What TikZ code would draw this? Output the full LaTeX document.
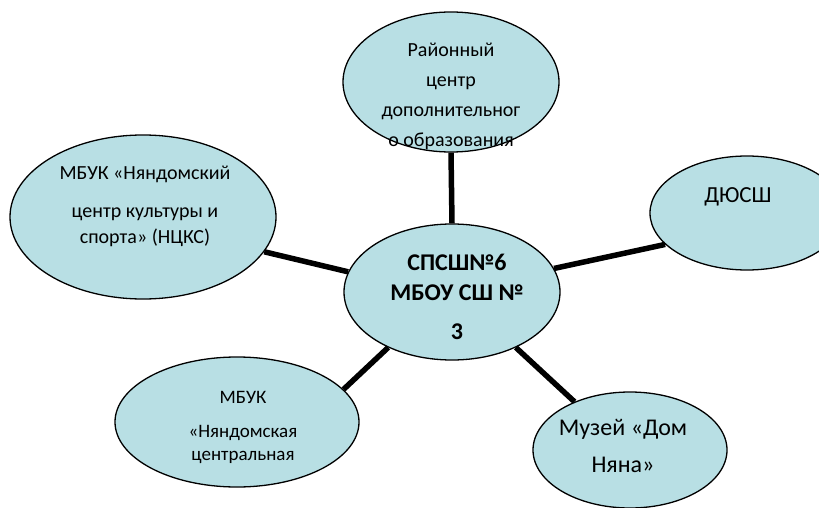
\documentclass[tikz,border=0pt]{standalone}
\usepackage{fontspec}
\setmainfont{Carlito}
\usetikzlibrary{shapes.geometric}
\definecolor{bubble}{RGB}{184,223,228}
\tikzset{
  bub/.style={ellipse, draw=black, line width=1.3pt, fill=bubble, inner sep=0pt},
  txt/.style={align=center, inner sep=0pt, text=black},
  conn/.style={draw=black, line width=5.5pt}
}
\newcommand{\fs}[2]{\fontsize{#1}{#2}\selectfont}
\begin{document}
\begin{tikzpicture}[x=1pt,y=-1pt]
\useasboundingbox (0,0) rectangle (819,508);
\clip (0,0) rectangle (819,508);
\node[bub, minimum width=216pt, minimum height=140pt] (top) at (451,82) {};
\node[bub, minimum width=266pt, minimum height=164pt] (left) at (143,217) {};
\node[bub, minimum width=194pt, minimum height=114pt] (right) at (747,213) {};
\node[bub, minimum width=244pt, minimum height=130pt] (bl) at (237,422) {};
\node[bub, minimum width=194pt, minimum height=116pt] (br) at (630,450) {};
\node[bub, minimum width=216pt, minimum height=136pt] (c) at (452,292) {};

\draw[conn] (top.south) -- (c.north);
\draw[conn] (left.-16) -- (c.169);
\draw[conn] (c.13) -- (right.201);
\draw[conn] (c.-41) -- (br.139);
\draw[conn] (c.221) -- (bl.17);

\node[txt, font=\fs{20}{30}] (topT) at (451,96) {Районный\\центр\\дополнительног\\о образования};
\node[txt, font=\fs{20}{26}] (leftT) at (145,206) {МБУК «Няндомский\\[12pt]центр культуры и\\спорта» (НЦКС)};
\node[txt, font=\bfseries\fs{24}{30}] (cT) at (457,297) {СПСШ№6\\МБОУ СШ №\\[9pt]3};
\node[txt, font=\fs{23}{28}] (rightT) at (738,197) {ДЮСШ};
\node[txt, font=\fs{19}{23}] (blT) at (243,427) {МБУК\\[11pt]«Няндомская\\центральная};
\node[txt, font=\fs{24}{37}] (brT) at (623,446) {Музей «Дом\\Няна»};
\end{tikzpicture}
\end{document}
